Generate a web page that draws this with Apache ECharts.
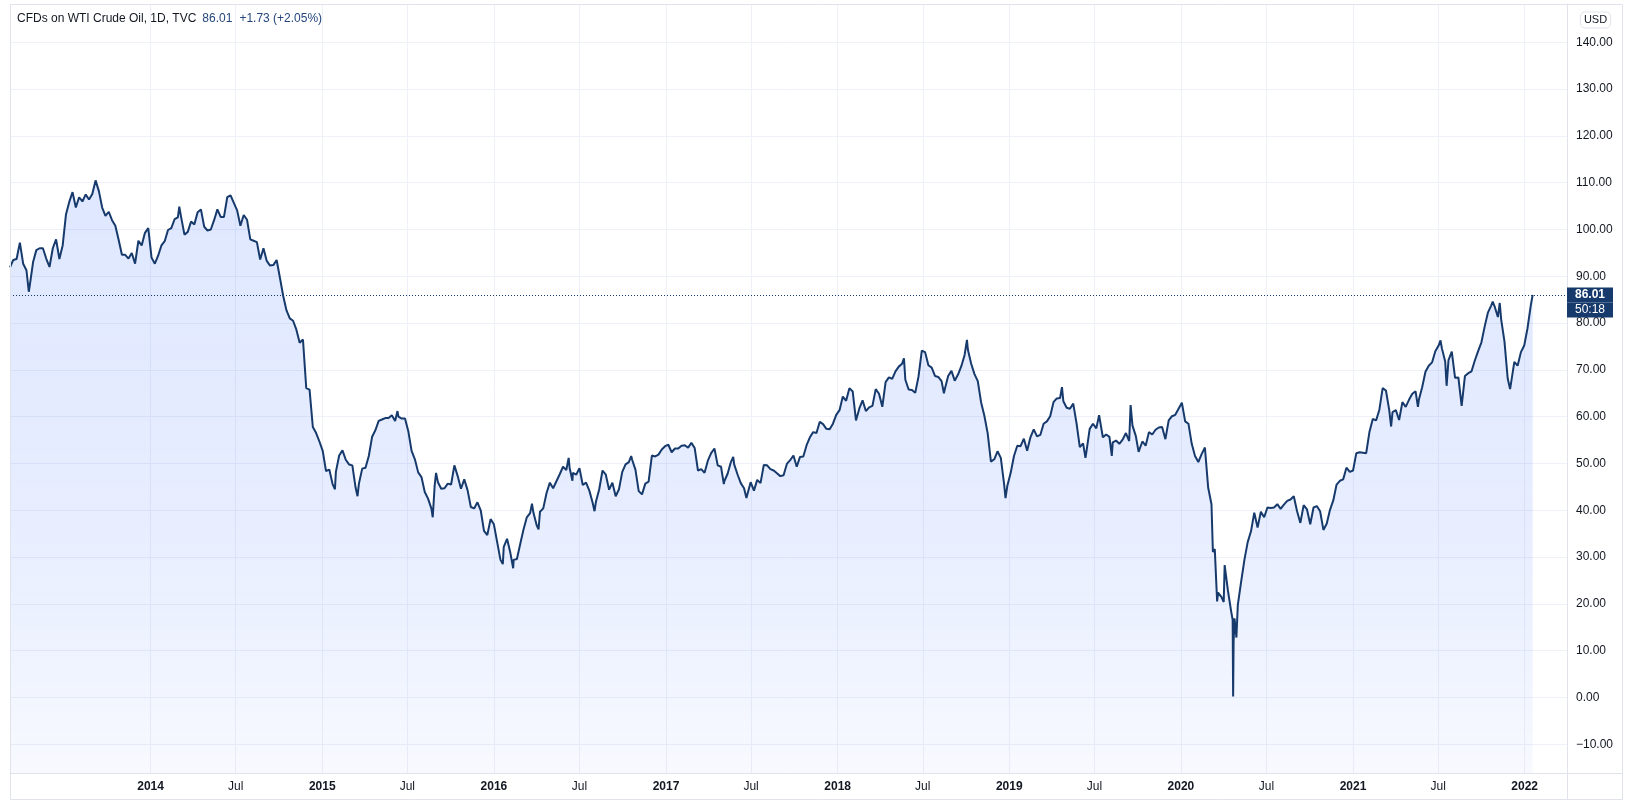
<!DOCTYPE html>
<html><head><meta charset="utf-8">
<script src="https://cdn.jsdelivr.net/npm/echarts@6/dist/echarts.min.js"></script>
<style>html,body{margin:0;padding:0;background:#fff}#c{width:1628px;height:804px}</style>
</head><body><div id="c"></div>
<script>
// ---- data (weekly closes, Fridays, starting 2013-03-08) ----
const weeklyStart = '2013-03-08';
const wti2013 = [91.9, 93.5, 93.7, 97.2, 92.7, 91.3, 88.0, 93.0, 95.6, 96.0, 96.0, 93.8, 92.0,
  96.0, 97.9, 93.7, 96.6, 103.2, 105.9, 108.0, 104.7, 106.9, 106.0, 107.5, 106.4, 107.6,
  110.5, 108.2, 104.7, 102.9, 103.8, 102.0, 100.8, 97.8, 94.6, 94.6, 93.8, 95.0, 92.7,
  97.6, 96.6, 99.3, 100.3];
const wti2014 = [94.0, 92.7, 94.4, 96.6, 97.5, 99.9, 100.3, 102.2, 102.6, 102.6, 98.9, 99.5, 101.7,
  101.1, 103.7, 104.3, 100.6, 99.8, 100.0, 102.0, 104.3, 102.7, 102.7, 106.9, 107.3, 105.7,
  104.1, 100.8, 103.1, 102.1, 97.9, 97.6, 97.3, 93.6, 96.0, 93.3, 92.3, 92.4, 93.5,
  89.7, 85.8, 82.7, 81.0, 80.5, 78.6, 75.8, 76.5, 66.1, 65.8, 57.8, 56.5, 54.7];
const wti2015 = [52.7, 48.4, 48.7, 45.6, 48.2, 51.7, 52.8, 50.8, 49.8, 49.6, 44.8, 45.7, 48.9,
  49.1, 51.6, 55.7, 57.1, 59.1, 59.4, 59.7, 59.7, 60.3, 59.1, 60.0, 59.6, 59.6,
  56.9, 52.7, 50.9, 48.1, 47.1, 43.9, 42.5, 40.4, 45.2, 46.0, 44.6, 44.7, 45.7,
  45.5, 49.6, 47.3, 44.6, 46.6, 44.3, 40.7, 40.4, 41.7, 40.0, 35.6, 34.7, 38.1];
const wti2016 = [37.0, 33.2, 29.4, 32.2, 33.9, 30.9, 29.4, 29.6, 32.8, 35.9, 38.5, 39.4, 39.5,
  36.8, 39.7, 40.4, 43.7, 45.9, 44.7, 46.2, 47.7, 49.3, 48.6, 49.1, 48.0, 47.6,
  49.0, 45.4, 45.9, 44.2, 41.6, 41.8, 44.5, 48.5, 47.6, 44.4, 45.9, 43.0, 44.5, 48.2,
  49.8, 50.3, 50.8, 48.7, 44.1, 43.4, 45.7, 46.1, 51.7, 51.5, 51.9, 53.0, 53.7];
const wti2017 = [54.0, 52.4, 53.2, 53.2, 53.8, 53.9, 53.4, 54.4, 53.3, 48.5, 48.8, 48.0, 50.6,
  52.2, 53.2, 49.6, 49.3, 46.2, 47.8, 50.3, 49.8, 47.7, 45.8, 44.7, 43.0, 46.0,
  44.2, 46.5, 45.8, 49.7, 49.6, 48.8, 48.5, 47.9, 47.3, 47.5, 49.9, 50.7, 51.7,
  49.3, 51.4, 51.5, 53.9, 55.6, 56.7, 56.5, 58.9, 58.4, 57.4, 57.3, 58.5, 60.4];
const wti2018 = [61.4, 64.3, 63.4, 66.1, 65.4, 59.2, 61.7, 63.5, 61.2, 62.0, 62.3, 65.9, 64.9,
  62.1, 67.4, 68.4, 68.1, 69.7, 70.7, 71.3, 67.9, 65.8, 65.7, 65.1, 68.6, 74.1,
  73.8, 71.0, 70.5, 68.7, 68.5, 67.6, 65.9, 68.7, 69.8, 67.7, 69.0, 70.8, 73.2,
  74.3, 71.3, 69.1, 67.6, 63.1, 60.2, 56.5, 50.4, 50.9, 52.6, 51.2, 45.6, 45.3];
const wti2019 = [48.0, 51.6, 53.8, 53.7, 55.3, 52.7, 55.6, 57.3, 55.8, 56.1, 58.5, 59.0, 60.1,
  63.1, 63.9, 64.0, 63.3, 61.9, 61.7, 62.8, 58.6, 53.5, 54.3, 52.5, 57.4, 58.5,
  57.5, 60.2, 55.6, 56.2, 55.7, 54.5, 54.9, 54.2, 55.1, 56.5, 54.8, 58.1, 55.9,
  52.8, 54.7, 53.8, 56.7, 56.2, 57.2, 57.7, 57.8, 55.2, 59.2, 60.1, 60.4, 61.7];
const wti2020 = [63.0, 59.0, 58.5, 54.2, 51.6, 50.3, 52.0, 53.4, 44.8, 41.3, 31.7, 22.4, 21.5,
  28.3, 22.8, 18.3, 16.9, 19.8, 24.7, 29.4, 33.2, 35.5, 39.5, 36.3, 39.7, 38.5,
  40.6, 40.5, 40.6, 41.3, 40.3, 41.2, 42.0, 42.3, 43.0, 39.8, 37.3, 41.1, 40.2,
  37.0, 40.6, 40.9, 39.8, 35.8, 37.1, 40.1, 42.1, 45.5, 46.3, 46.6, 49.1, 48.2];
const wti2021 = [48.5, 52.2, 52.4, 52.3, 52.2, 56.8, 59.5, 59.2, 61.5, 66.1, 65.6, 61.4, 61.0,
  61.4, 59.3, 63.1, 62.1, 63.6, 64.9, 65.4, 63.6, 66.3, 69.6, 70.9, 71.6, 74.0,
  75.2, 74.6, 71.8, 72.1, 73.9, 68.3, 68.4, 62.3, 68.7, 69.3, 69.7, 72.0, 74.0,
  75.9, 79.3, 82.3, 83.8, 83.6, 81.3, 80.8, 76.1, 68.1, 66.3, 71.7, 70.9, 73.8, 75.2];
const wti2022 = [78.9, 83.8];
// intra-week extremes
const extraPoints = [
  ['2013-04-17', 86.7], ['2014-03-03', 104.9], ['2015-01-28', 44.5], ['2015-03-17', 43.0],
  ['2015-06-10', 61.2], ['2015-08-24', 38.5], ['2015-08-31', 48.0], ['2016-01-20', 28.5],
  ['2016-02-11', 27.6], ['2016-03-22', 41.4], ['2016-04-05', 35.9], ['2016-06-08', 51.2],
  ['2016-06-16', 46.3], ['2016-08-02', 39.8], ['2016-10-19', 51.6], ['2017-05-04', 45.6],
  ['2017-05-24', 51.4], ['2017-06-21', 42.6], ['2018-05-22', 72.5], ['2018-07-03', 74.2],
  ['2018-08-15', 65.0], ['2018-10-03', 76.4], ['2018-12-24', 42.6], ['2019-04-23', 66.3],
  ['2019-06-12', 51.2], ['2019-07-11', 60.3], ['2019-08-07', 51.6], ['2019-09-16', 62.5],
  ['2019-10-03', 52.5], ['2020-01-06', 63.2], ['2020-03-09', 31.1], ['2020-03-18', 20.5],
  ['2020-04-01', 20.4], ['2020-04-20', 16.6], ['2020-04-21', 0.2], ['2020-04-22', 11.8],
  ['2020-04-28', 12.8], ['2021-03-23', 57.9], ['2021-05-19', 62.1], ['2021-07-06', 76.3],
  ['2021-07-19', 66.6], ['2021-10-25', 84.6], ['2021-11-09', 84.3], ['2021-12-01', 65.9]
];
const lastPoint = ['2022-01-18', 86.01];

const seriesTitle = 'CFDs on WTI Crude Oil, 1D, TVC';
const lastPrice = 86.01;
const changeText = '+1.73 (+2.05%)';
const countdown = '50:18';
const currency = 'USD';

const xStart = '2013-03-08';
const xEnd = '2022-04-01';
const yTicks = [-10, 0, 10, 20, 30, 40, 50, 60, 70, 80, 90, 100, 110, 120, 130, 140];
const xTickDates = ['2014-01-01', '2014-07-01', '2015-01-01', '2015-07-01', '2016-01-01', '2016-07-01',
  '2017-01-01', '2017-07-01', '2018-01-01', '2018-07-01', '2019-01-01', '2019-07-01',
  '2020-01-01', '2020-07-01', '2021-01-01', '2021-07-01', '2022-01-01'];
const xTickLabels = ['2014', 'Jul', '2015', 'Jul', '2016', 'Jul', '2017', 'Jul', '2018', 'Jul',
  '2019', 'Jul', '2020', 'Jul', '2021', 'Jul', '2022'];

// ---- build ----
const ts = s => Date.parse(s + 'T00:00:00Z');
function addDays(s, n) {
  const d = new Date(s + 'T00:00:00Z');
  d.setUTCDate(d.getUTCDate() + n);
  return d.toISOString().slice(0, 10);
}
const weekly = [].concat(wti2013, wti2014, wti2015, wti2016, wti2017, wti2018, wti2019, wti2020, wti2021, wti2022);
const data = weekly.map((v, i) => [addDays(weeklyStart, 7 * i), v])
  .concat(extraPoints, [lastPoint])
  .sort((a, b) => (a[0] < b[0] ? -1 : a[0] > b[0] ? 1 : 0))
  .map(p => [ts(p[0]), p[1]]);
const xTickValues = xTickDates.map(ts);

const FONT = '"Liberation Sans", Arial, sans-serif';
const NAVY = '#173a6c';
const GRID = '#eef1f7';
const BORDER = '#e0e3eb';

const chart = echarts.init(document.getElementById('c'), null, { renderer: 'canvas' });
chart.setOption({
  animation: false,
  textStyle: { fontFamily: FONT },
  title: {
    text: '{a|' + seriesTitle + '}{b|' + lastPrice.toFixed(2) + '}{c|' + changeText + '}',
    left: 17, top: 13, padding: 0,
    textStyle: {
      fontWeight: 'normal', fontSize: 12,
      rich: {
        a: { color: '#131722', fontSize: 12, fontWeight: 'normal', fontFamily: FONT },
        b: { color: '#24467c', fontSize: 12, fontWeight: 'normal', fontFamily: FONT, padding: [0, 0, 0, 6] },
        c: { color: '#24467c', fontSize: 12, fontWeight: 'normal', fontFamily: FONT, padding: [0, 0, 0, 7] }
      }
    }
  },
  grid: { left: 10, right: 61, top: 4, bottom: 31, outerBoundsMode: 'none', containLabel: false },
  xAxis: {
    type: 'value',
    min: ts(xStart), max: ts(xEnd),
    axisLine: { show: true, onZero: false, lineStyle: { color: BORDER } },
    axisTick: { show: false, customValues: xTickValues },
    splitLine: { show: true, lineStyle: { color: GRID } },
    axisLabel: {
      customValues: xTickValues,
      margin: 8,
      color: '#131722', fontSize: 12, fontFamily: FONT,
      formatter: function (value) {
        const i = xTickValues.indexOf(value);
        if (i < 0) return '';
        const lab = xTickLabels[i];
        return lab === 'Jul' ? '{m|' + lab + '}' : '{y|' + lab + '}';
      },
      rich: {
        y: { fontWeight: 'bold', color: '#131722', fontSize: 12, fontFamily: FONT },
        m: { color: '#131722', fontSize: 12, fontFamily: FONT }
      }
    }
  },
  yAxis: {
    type: 'value',
    position: 'right',
    min: -16.15, max: 148.2,
    axisLine: { show: true, lineStyle: { color: BORDER } },
    axisTick: { show: false, customValues: yTicks },
    splitLine: { show: true, lineStyle: { color: GRID } },
    axisLabel: {
      customValues: yTicks,
      margin: 9,
      color: '#131722', fontSize: 12, fontFamily: FONT,
      formatter: v => v.toFixed(2).replace('-', '\u2212')
    }
  },
  series: [{
    type: 'line',
    data: data,
    showSymbol: false,
    symbol: 'none',
    lineStyle: { width: 2, color: NAVY },
    itemStyle: { color: NAVY },
    areaStyle: {
      origin: 'start',
      color: new echarts.graphic.LinearGradient(0, 0, 0, 1, [
        { offset: 0, color: 'rgba(41,98,255,0.21)' },
        { offset: 0.3, color: 'rgba(41,98,255,0.19)' },
        { offset: 0.55, color: 'rgba(41,98,255,0.16)' },
        { offset: 0.75, color: 'rgba(41,98,255,0.12)' },
        { offset: 0.9, color: 'rgba(41,98,255,0.08)' },
        { offset: 1, color: 'rgba(41,98,255,0.05)' }
      ])
    },
    markLine: {
      silent: true,
      symbol: ['none', 'none'],
      animation: false,
      lineStyle: { color: NAVY, type: [1, 2], width: 1 },
      label: {
        show: true, position: 'end', distance: 0,
        formatter: '{t| }\n{a|' + lastPrice.toFixed(2) + '}\n{b|' + countdown + '}',
        rich: {
          t: { lineHeight: 15, height: 15, color: 'rgba(0,0,0,0)', fontSize: 12 },
          a: { color: '#fff', fontWeight: 'bold', fontSize: 12, lineHeight: 15, height: 15, width: 46, align: 'center', backgroundColor: NAVY, fontFamily: FONT },
          b: { color: '#fff', fontSize: 12, lineHeight: 15, height: 15, width: 46, align: 'center', backgroundColor: NAVY, fontFamily: FONT }
        }
      },
      data: [{ yAxis: lastPrice }]
    }
  }],
  graphic: [
    { type: 'rect', silent: true, z: 100, shape: { x: 10.5, y: 4.5, width: 1612, height: 795 }, style: { fill: 'none', stroke: BORDER, lineWidth: 1 } },
    { type: 'line', silent: true, z: 100, shape: { x1: 1567, y1: 773.5, x2: 1623, y2: 773.5 }, style: { stroke: BORDER, lineWidth: 1 } },
    { type: 'line', silent: true, z: 100, shape: { x1: 1567.5, y1: 773, x2: 1567.5, y2: 800 }, style: { stroke: BORDER, lineWidth: 1 } },
    { type: 'text', silent: true, z: 100, style: { text: currency, x: 1595.5, y: 20, align: 'center', verticalAlign: 'middle', fontSize: 11, fontFamily: FONT, fill: '#131722', backgroundColor: '#fff', borderColor: BORDER, borderWidth: 1, borderRadius: 4, padding: [2, 3, 2, 3] } }
  ]
});
</script>
</body></html>
